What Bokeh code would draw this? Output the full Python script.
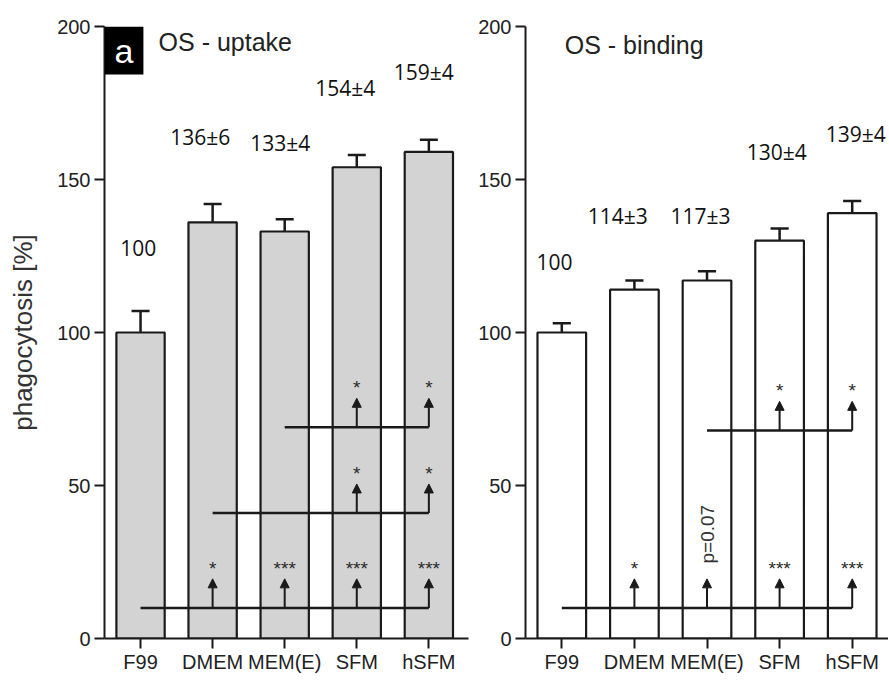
from bokeh.plotting import figure
from bokeh.layouts import row
from bokeh.models import (ColumnDataSource, FixedTicker, Label, LabelSet, Arrow,
                          NormalHead, Range1d)
from bokeh.core.properties import value
from bokeh.embed import file_html
from bokeh.resources import INLINE
import math

# ---------------- data ----------------
categories = ["F99", "DMEM", "MEM(E)", "SFM", "hSFM"]
y_ticks = [0, 50, 100, 150, 200]

uptake_mean = [100, 136, 133, 154, 159]
uptake_err = [7, 6, 4, 4, 4]
uptake_text = ["100", "136±6", "133±4", "154±4", "159±4"]

binding_mean = [100, 114, 117, 130, 139]
binding_err = [3, 3, 3, 4, 4]
binding_text = ["100", "114±3", "117±3", "130±4", "139±4"]

# significance comparisons: (reference group, compared groups, marks)
uptake_sig = [
    (0, [1, 2, 3, 4], ["*", "***", "***", "***"]),
    (1, [3, 4], ["*", "*"]),
    (2, [3, 4], ["*", "*"]),
]
binding_sig = [
    (0, [1, 2, 3, 4], ["*", "p=0.07", "***", "***"]),
    (2, [3, 4], ["*", "*"]),
]

# ---------------- layout helpers (positions, not data) ----------------
uptake_levels = [10, 41, 69]
binding_levels = [10, 68]
uptake_lab_x = [-0.03, 0.83, 1.94, 2.84, 3.93]
uptake_lab_y = [127.5, 164, 162, 180, 185]
binding_lab_x = [-0.10, 0.77, 1.91, 2.96, 4.05]
binding_lab_y = [123, 138, 138, 159, 165]

BAR_W = 0.67
CAP = 0.25
INK = "#1a1a1a"
TICK_FONT = "Liberation Sans"
VAL_FONT = "Open Sans"


def make_panel(means, errs, texts, lab_x, lab_y, sig, levels, fill, title,
               title_x, title_y, xr_end, frame_w, border_left, border_right,
               ylabel=None):
    p = figure(output_backend="svg", toolbar_location=None,
               frame_width=frame_w, frame_height=612,
               min_border_left=border_left, min_border_right=border_right,
               min_border_top=26, min_border_bottom=46,
               x_range=Range1d(-0.5, xr_end), y_range=Range1d(0, 200))
    p.outline_line_color = None
    p.grid.grid_line_color = None
    p.background_fill_color = "white"
    p.border_fill_color = "white"

    idx = list(range(len(categories)))
    src = ColumnDataSource(dict(
        x=idx, top=means,
        etop=[m + e for m, e in zip(means, errs)],
        cl=[i - CAP / 2 for i in idx], cr=[i + CAP / 2 for i in idx]))
    p.vbar(x="x", top="top", bottom=0, width=BAR_W, source=src,
           fill_color=fill, line_color=INK, line_width=2.2)
    p.segment(x0="x", y0="top", x1="x", y1="etop", source=src,
              line_color=INK, line_width=2.5)
    p.segment(x0="cl", y0="etop", x1="cr", y1="etop", source=src,
              line_color=INK, line_width=2.5)

    # value labels
    lsrc = ColumnDataSource(dict(x=lab_x, y=lab_y, t=texts))
    p.add_layout(LabelSet(x="x", y="y", text="t", source=lsrc,
                          text_align="center", text_baseline="middle",
                          text_font=value(VAL_FONT), text_font_size=value("21px"),
                          text_color="#111111"))

    # significance brackets
    bx0, bx1, by = [], [], []
    ax, ay0, ay1 = [], [], []
    sx, sy, st = [], [], []
    px, py, pt = [], [], []
    for (ref, targets, marks), lvl in zip(sig, levels):
        bx0.append(ref)
        bx1.append(max(targets))
        by.append(lvl)
        for t, m in zip(targets, marks):
            ax.append(t)
            ay0.append(lvl)
            ay1.append(lvl + 9.5)
            if m.startswith("p"):
                px.append(t)
                py.append(lvl + 14.5)
                pt.append(m)
            else:
                sx.append(t)
                sy.append(lvl + 13)
                st.append(m)
    p.segment(x0=bx0, y0=by, x1=bx1, y1=by, line_color=INK, line_width=2.5)
    asrc = ColumnDataSource(dict(x0=ax, y0=ay0, x1=ax, y1=ay1))
    p.add_layout(Arrow(x_start="x0", y_start="y0", x_end="x1", y_end="y1",
                       source=asrc, line_color=INK, line_width=2,
                       end=NormalHead(size=9, fill_color=INK, line_color=INK,
                                      line_width=1)))
    p.text(x=sx, y=sy, text=st, text_align="center", text_baseline="middle",
           text_font_size=value("19px"), text_color="#2a2a2a",
           text_font=value(TICK_FONT))
    if pt:
        p.text(x=px, y=py, text=pt, angle=math.pi / 2, text_align="left",
               text_baseline="middle", text_font_size=value("19px"),
               text_color="#333333", text_font=value(TICK_FONT))

    # title
    p.add_layout(Label(x=title_x, y=title_y, text=title, text_font=TICK_FONT,
                       text_font_size="25px", text_baseline="middle",
                       text_color="#222222"))

    # axes
    p.xaxis.ticker = FixedTicker(ticks=idx)
    p.xaxis.major_label_overrides = {i: c for i, c in enumerate(categories)}
    p.yaxis.ticker = FixedTicker(ticks=y_ticks)
    for ax_ in (p.xaxis, p.yaxis):
        ax_.axis_line_width = 2
        ax_.axis_line_color = INK
        ax_.major_tick_line_width = 2
        ax_.major_tick_line_color = INK
        ax_.major_tick_out = 10
        ax_.major_tick_in = 0
        ax_.minor_tick_line_color = None
        ax_.major_label_text_font = TICK_FONT
        ax_.major_label_text_font_size = "20px"
        ax_.major_label_text_color = "#222222"
    p.xaxis.major_label_standoff = 2
    p.yaxis.major_label_standoff = 4
    if ylabel:
        p.yaxis.axis_label = ylabel
        p.yaxis.axis_label_text_font = TICK_FONT
        p.yaxis.axis_label_text_font_size = "26px"
        p.yaxis.axis_label_text_font_style = "normal"
        p.yaxis.axis_label_text_color = "#333333"
        p.yaxis.axis_label_standoff = 16
    return p


left = make_panel(uptake_mean, uptake_err, uptake_text, uptake_lab_x,
                  uptake_lab_y, uptake_sig, uptake_levels, "#d3d3d3",
                  "OS - uptake", 0.25, 194.8, 4.55, 364, 104, 2,
                  ylabel="phagocytosis [%]")
left.add_layout(Label(x=-0.5, y=200, text="a", text_font=TICK_FONT,
                      text_font_size="34px", text_color="white",
                      text_align="left", text_baseline="top",
                      background_fill_color="black", padding=(10, 5)))

right = make_panel(binding_mean, binding_err, binding_text, binding_lab_x,
                   binding_lab_y, binding_sig, binding_levels, "white",
                   "OS - binding", 0.04, 194, 4.5, 363, 55, 0)

layout = row(left, right)
open("out.html", "w").write(file_html(layout, INLINE))
